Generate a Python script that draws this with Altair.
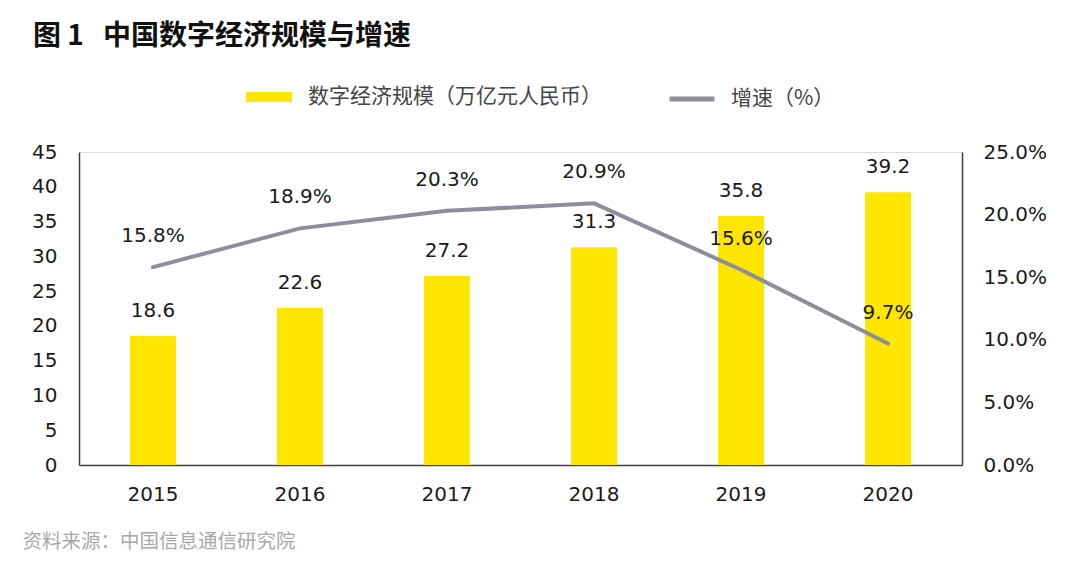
import altair as alt
import pandas as pd

years = ["2015", "2016", "2017", "2018", "2019", "2020"]
scale_values = [18.6, 22.6, 27.2, 31.3, 35.8, 39.2]
growth_values = [15.8, 18.9, 20.3, 20.9, 15.6, 9.7]

bar_name = "数字经济规模（万亿元人民币）"
line_name = "增速（%）"
title_text = "图\u00a01\u00a0\u00a0\u00a0中国数字经济规模与增速"
source_text = "资料来源：中国信息通信研究院"

YELLOW = "#FFE600"
GRAY = "#8E8E9A"
CJK = "Noto Sans CJK SC"
NUM = "DejaVu Sans"

df = pd.DataFrame({
    "year": years,
    "scale": scale_values,
    "growth": growth_values,
})
df["growth_frac"] = df["growth"] / 100.0
df["bar_series"] = bar_name
df["line_series"] = line_name

x = alt.X(
    "year:N",
    sort=years,
    scale=alt.Scale(paddingInner=0.6875, paddingOuter=0.347),
    axis=alt.Axis(
        title=source_text,
        titleAnchor="start",
        titleAlign="left",
        titleBaseline="middle",
        titleX=-57,
        titleY=76,
        titleFont=CJK,
        titleFontSize=19.5,
        titleFontWeight="normal",
        titleColor="#A8A8A8",
        labelAngle=0,
        labelFont=NUM,
        labelFontSize=20,
        labelColor="#1a1a1a",
        labelPadding=19,
        ticks=False,
        domainColor="#404040",
        domainWidth=1.5,
    ),
)

y_left = alt.Y(
    "scale:Q",
    scale=alt.Scale(domain=[0, 45]),
    axis=alt.Axis(
        title=None,
        values=[0, 5, 10, 15, 20, 25, 30, 35, 40, 45],
        labelFont=NUM,
        labelFontSize=20,
        labelColor="#1a1a1a",
        labelPadding=22,
        ticks=False,
        grid=False,
        domainColor="#404040",
        domainWidth=1.5,
    ),
)

y_right = alt.Y(
    "growth_frac:Q",
    scale=alt.Scale(domain=[0, 0.25]),
    axis=alt.Axis(
        title=None,
        orient="right",
        values=[0, 0.05, 0.10, 0.15, 0.20, 0.25],
        format=".1%",
        labelFont=NUM,
        labelFontSize=20,
        labelColor="#1a1a1a",
        labelPadding=21,
        ticks=False,
        grid=False,
        domainColor="#404040",
        domainWidth=1.5,
    ),
)

base = alt.Chart(df)

bars = base.mark_bar(stroke=None).encode(
    x=x,
    y=y_left,
    fill=alt.Fill(
        "bar_series:N",
        scale=alt.Scale(domain=[bar_name], range=[YELLOW]),
        legend=alt.Legend(
            title=None,
            orient="none",
            legendX=167,
            legendY=-78,
            symbolType="M-1,-0.22H1V0.22H-1Z",
            symbolSize=2116,
            symbolStrokeWidth=0,
            labelFont=CJK,
            labelFontSize=21,
            labelColor="#444444",
            labelOffset=16,
            labelLimit=500,
            padding=0,
        ),
    ),
)

bar_text = base.mark_text(
    font=NUM, fontSize=20, color="#1a1a1a", baseline="middle", dy=-25
).encode(
    x=x,
    y=y_left,
    text=alt.Text("scale:Q", format=".1f"),
)

left_layer = alt.layer(bars, bar_text)

line = base.mark_line(strokeWidth=4, strokeCap="round").encode(
    x=x,
    y=y_right,
    stroke=alt.Stroke(
        "line_series:N",
        scale=alt.Scale(domain=[line_name], range=[GRAY]),
        legend=alt.Legend(
            title=None,
            orient="none",
            legendX=588,
            legendY=-78,
            symbolType="stroke",
            symbolSize=2025,
            symbolStrokeWidth=5,
            labelFont=CJK,
            labelFontSize=21,
            labelColor="#444444",
            labelOffset=14,
            labelLimit=500,
            padding=0,
        ),
    ),
)

line_text = base.mark_text(
    font=NUM, fontSize=20, color="#1a1a1a", baseline="middle", dy=-31
).encode(
    x=x,
    y=y_right,
    text=alt.Text("growth_frac:Q", format=".1%"),
)

right_layer = alt.layer(line, line_text)

chart = (
    alt.layer(left_layer, right_layer)
    .resolve_scale(y="independent")
    .properties(
        width=883,
        height=313,
        autosize=alt.AutoSizeParams(type="none"),
        padding={"left": 71, "top": 144, "right": 110, "bottom": 90},
        title=alt.TitleParams(
            text=title_text,
            anchor="start",
            frame="group",
            dx=-46,
            offset=23,
            font=CJK,
            fontSize=28,
            fontWeight="bold",
            color="#111111",
        ),
    )
    .configure_view(stroke=None)
    .configure(background="white")
)

chart.save("out.html", embed_options={"renderer": "svg", "actions": False})
